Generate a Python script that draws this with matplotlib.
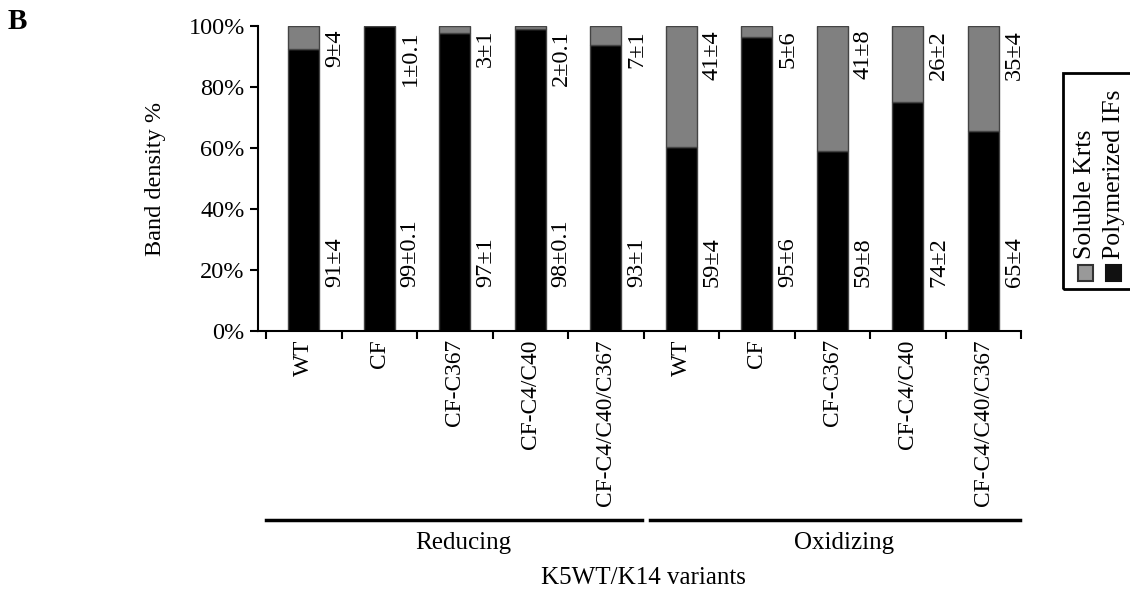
import matplotlib
matplotlib.use("Agg")
import matplotlib.pyplot as plt
from matplotlib.patches import Rectangle
import matplotlib.transforms as mtransforms

plt.rcParams['font.family'] = ['Liberation Serif', 'DejaVu Serif']

# data
variants = ['WT', 'CF', 'CF-C367', 'CF-C4/C40', 'CF-C4/C40/C367',
            'WT', 'CF', 'CF-C367', 'CF-C4/C40', 'CF-C4/C40/C367']
polymerized = [92.5, 100, 97.8, 99, 93.8, 60.4, 96.4, 59, 75, 65.7]
soluble = [100 - p for p in polymerized]
poly_labels = ['91±4', '99±0.1', '97±1', '98±0.1', '93±1',
               '59±4', '95±6', '59±8', '74±2', '65±4']
sol_labels = ['9±4', '1±0.1', '3±1', '2±0.1', '7±1',
              '41±4', '5±6', '41±8', '26±2', '35±4']
groups = ['Reducing', 'Oxidizing']
yticks = [0, 20, 40, 60, 80, 100]

fs = 17.5
fig = plt.figure(figsize=(11.3, 5.9), dpi=100)
ax = fig.add_axes([258 / 1130, 1 - 331 / 590, (1021 - 258) / 1130, (331 - 26) / 590])

x = list(range(len(variants)))
w = 0.41
ax.bar(x, polymerized, width=w, color='black', edgecolor='#444444', linewidth=1)
ax.bar(x, soluble, width=w, bottom=polymerized, color='#808080',
       edgecolor='#444444', linewidth=1)

for i in x:
    ax.text(i + 0.41, 98.7, sol_labels[i], rotation=90, ha='center', va='top', fontsize=fs)
    ax.text(i + 0.41, 14.4, poly_labels[i], rotation=90, ha='center', va='bottom', fontsize=fs)

ax.set_xlim(-0.606, 9.5)
ax.set_ylim(0, 100)
ax.set_yticks(yticks)
ax.set_yticklabels([f'{t}%' for t in yticks], fontsize=17.5)
ax.set_xticks([b - 0.5 for b in range(len(variants) + 1)])
ax.set_xticklabels([])
ax.set_xticks(x, variants, minor=True, rotation=90, fontsize=16.8)
ax.tick_params(axis='x', which='minor', length=0, pad=6)
ax.tick_params(axis='both', which='major', direction='out', length=6, width=1.5)
for s in ['top', 'right']:
    ax.spines[s].set_visible(False)
for s in ['left', 'bottom']:
    ax.spines[s].set_linewidth(1.5)

ax.set_ylabel('Band density %', fontsize=fs)
ax.yaxis.set_label_coords(-0.1206, 0.5)

# group underlines and labels
trans = mtransforms.blended_transform_factory(ax.transData, ax.transAxes)
spans = [(-0.5, 4.48), (4.59, 9.49)]
for (a, b), g in zip(spans, groups):
    ax.plot([a, b], [-0.62, -0.62], color='black', lw=2.5, transform=trans, clip_on=False)
    ax.text((a + b) / 2 + 0.12, -0.695, g, ha='center', va='center', fontsize=18, transform=trans)

ax.text(0.505, -0.81, 'K5WT/K14 variants', ha='center', va='center', fontsize=18,
        transform=ax.transAxes)

# legend drawn by hand (rotated)
def px(xp, yp):
    return xp / 1130, 1 - yp / 590

fig.patches.append(Rectangle(px(1063, 289), 100 / 1130, (289 - 73) / 590, fill=False,
                             edgecolor='black', lw=2, transform=fig.transFigure))
fig.patches.append(Rectangle(px(1078, 281), 15 / 1130, 16 / 590, facecolor='#999999',
                             edgecolor='#333333', lw=1.5, transform=fig.transFigure))
fig.patches.append(Rectangle(px(1106, 281), 15 / 1130, 16 / 590, facecolor='#111111',
                             edgecolor='#111111', lw=1.5, transform=fig.transFigure))
fig.text(*px(1085, 259), 'Soluble Krts', rotation=90, ha='center', va='bottom', fontsize=18.5)
fig.text(*px(1114, 259), 'Polymerized IFs', rotation=90, ha='center', va='bottom', fontsize=18.5)

fig.text(*px(8, 29), 'B', fontsize=21, fontweight='bold', ha='left', va='baseline')

fig.savefig('out.png', dpi=100)
